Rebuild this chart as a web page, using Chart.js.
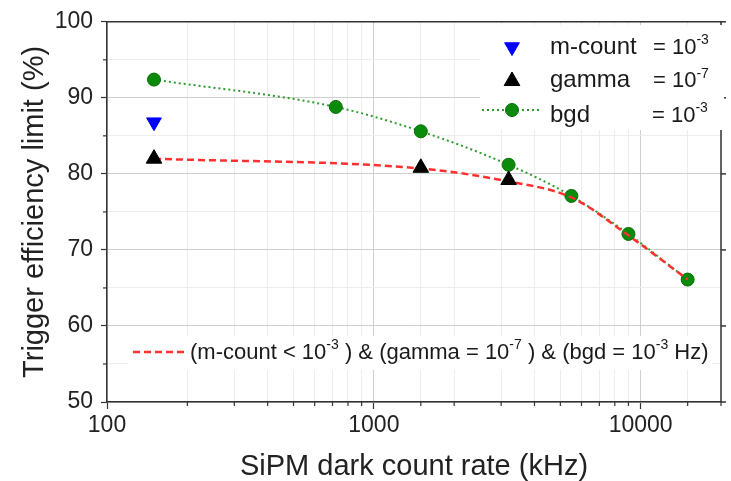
<!DOCTYPE html>
<html>
<head>
<meta charset="utf-8">
<script src="https://cdn.jsdelivr.net/npm/chart.js@4.4.1/dist/chart.umd.min.js"></script>
<style>
    html, body { margin: 0; padding: 0; background: #fff; }
    #wrap { width: 731px; height: 481px; }
</style>
</head>
<body>
<div id="wrap"><canvas id="graphCanvas" width="731" height="481"></canvas></div>
<script>
// SiPM dark count rate (kHz)
var bgdRates = [150, 720, 1500, 3200, 5500, 9000, 15000];
var bgdValues = [92.4, 88.8, 85.6, 81.2, 77.1, 72.1, 66.1];

var gammaRates = [150, 1500, 3200];
var gammaValues = [82.0, 80.8, 79.2];

var mcountRates = [150];
var mcountValues = [86.8];

var combinedRates = [150, 1500, 3200, 5500, 9000, 15000];
var combinedValues = [82.0, 80.7, 79.0, 76.9, 71.9, 66.1];

var xLabels = [100, 1000, 10000];
var yLabels = [50, 60, 70, 80, 90, 100];

var FONT = "'Liberation Sans', Arial, sans-serif";

function pts(xs, ys) {
    return xs.map(function (x, i) { return { x: x, y: ys[i] }; });
}

function isDecade(v) {
    var l = Math.log10(v);
    return Math.abs(l - Math.round(l)) < 1e-6;
}

// text with superscripts: parts = [[text, sup?], ...]
function drawParts(ctx, parts, x, y, size) {
    parts.forEach(function (p) {
        if (p[1]) {
            ctx.font = Math.round(size * 0.62) + "px " + FONT;
            ctx.fillText(p[0], x, y - size * 0.42);
        } else {
            ctx.font = size + "px " + FONT;
            ctx.fillText(p[0], x, y);
        }
        x += ctx.measureText(p[0]).width;
    });
    return x;
}

var legendPlugin = {
    id: "legends",
    afterDraw: function (chart) {
        var ctx = chart.ctx;
        var area = chart.chartArea;
        var xScale = chart.scales.x;
        var yScale = chart.scales.y;
        ctx.save();

        // frame top / right
        ctx.strokeStyle = "#333";
        ctx.lineWidth = 1.5;
        ctx.beginPath();
        ctx.moveTo(area.left, area.top);
        ctx.lineTo(area.right, area.top);
        ctx.lineTo(area.right, area.bottom);
        ctx.stroke();
        yLabels.forEach(function (v) {
            var py = yScale.getPixelForValue(v);
            ctx.beginPath();
            ctx.moveTo(area.right, py);
            ctx.lineTo(area.right + 5, py);
            ctx.stroke();
        });

        // minor ticks (shorter)
        ctx.lineWidth = 1.2;
        xScale.ticks.forEach(function (t) {
            if (isDecade(t.value)) return;
            var px = xScale.getPixelForValue(t.value);
            ctx.beginPath();
            ctx.moveTo(px, area.bottom);
            ctx.lineTo(px, area.bottom + 4);
            ctx.stroke();
        });
        yScale.ticks.forEach(function (t) {
            if (t.value % 10 === 0) return;
            var py = yScale.getPixelForValue(t.value);
            ctx.beginPath();
            ctx.moveTo(area.left, py);
            ctx.lineTo(area.left - 4, py);
            ctx.stroke();
        });

        // white legend boxes
        ctx.fillStyle = "#fff";
        ctx.fillRect(480, 25, 244, 105);
        ctx.fillRect(128, 336, 584, 34);

        ctx.textBaseline = "alphabetic";
        ctx.textAlign = "left";

        ctx.fillStyle = "#0000ff";
        ctx.strokeStyle = "#0000ff";
        ctx.lineWidth = 1;
        Chart.helpers.drawPoint(ctx, { pointStyle: "triangle", rotation: 180, radius: 8.5, borderWidth: 1 }, 512, 47);
        ctx.fillStyle = "#000";
        ctx.strokeStyle = "#000";
        Chart.helpers.drawPoint(ctx, { pointStyle: "triangle", rotation: 0, radius: 9, borderWidth: 1 }, 512, 81);

        ctx.strokeStyle = "#2e9b2e";
        ctx.lineWidth = 2;
        ctx.setLineDash([2, 3]);
        ctx.beginPath();
        ctx.moveTo(482, 110);
        ctx.lineTo(542, 110);
        ctx.stroke();
        ctx.setLineDash([]);
        ctx.fillStyle = "#0b8a0b";
        ctx.strokeStyle = "#067006";
        ctx.lineWidth = 1;
        Chart.helpers.drawPoint(ctx, { pointStyle: "circle", radius: 6.5, borderWidth: 1 }, 512, 110);

        ctx.fillStyle = "#1a1a1a";
        var size = 22;
        ctx.font = "24px " + FONT;
        ctx.fillText("m-count", 550, 53.5);
        ctx.fillText("gamma", 550, 87);
        ctx.fillText("bgd", 550, 121.5);
        drawParts(ctx, [["= 10", false], ["-3", true]], 653, 53.5, size);
        drawParts(ctx, [["= 10", false], ["-7", true]], 653, 87, size);
        drawParts(ctx, [["= 10", false], ["-3", true]], 652, 121.5, size);

        // bottom legend
        ctx.strokeStyle = "#ff3030";
        ctx.lineWidth = 2.5;
        ctx.setLineDash([7, 4]);
        ctx.beginPath();
        ctx.moveTo(133, 352);
        ctx.lineTo(185, 352);
        ctx.stroke();
        ctx.setLineDash([]);
        ctx.fillStyle = "#1a1a1a";
        drawParts(ctx, [
            ["(m-count < 10", false], ["-3", true], [" ) & (gamma = 10", false], ["-7", true],
            [" ) & (bgd = 10", false], ["-3", true], [" Hz)", false]
        ], 190, 358.5, size);

        ctx.restore();
    }
};

var data = {
    datasets: [
        {
            label: "bgd = 10-3",
            data: pts(bgdRates, bgdValues),
            showLine: true,
            borderColor: "#2e9b2e",
            borderWidth: 2,
            borderDash: [2, 3],
            cubicInterpolationMode: "monotone",
            pointStyle: "circle",
            pointRadius: 6.5,
            pointBackgroundColor: "#0b8a0b",
            pointBorderColor: "#067006",
            pointBorderWidth: 1,
            order: 4,
        },
        {
            label: "(m-count < 10-3) & (gamma = 10-7) & (bgd = 10-3 Hz)",
            data: pts(combinedRates, combinedValues),
            showLine: true,
            borderColor: "#ff3030",
            borderWidth: 2.5,
            borderDash: [7, 4],
            cubicInterpolationMode: "monotone",
            pointRadius: 0,
            order: 3,
        },
        {
            label: "gamma = 10-7",
            data: pts(gammaRates, gammaValues),
            showLine: false,
            pointStyle: "triangle",
            pointRadius: 9,
            pointBackgroundColor: "#000",
            pointBorderColor: "#000",
            order: 2,
        },
        {
            label: "m-count = 10-3",
            data: pts(mcountRates, mcountValues),
            showLine: false,
            pointStyle: "triangle",
            pointRotation: 180,
            pointRadius: 8.5,
            pointBackgroundColor: "#0000ff",
            pointBorderColor: "#0000ff",
            order: 1,
        },
    ],
};

var options = {
    responsive: false,
    animation: false,
    devicePixelRatio: 1,
    layout: { padding: { top: 18, right: 5, left: 0, bottom: 0 } },
    plugins: {
        legend: { display: false },
        tooltip: { enabled: false },
    },
    scales: {
        x: {
            type: "logarithmic",
            min: 100,
            max: 20000,
            afterFit: function (s) { s.height = 79; },
            border: { color: "#333", width: 1.5 },
            grid: {
                color: function (c) { return isDecade(c.tick.value) ? "#cfcfcf" : "#ededed"; },
                tickColor: function (c) { return isDecade(c.tick.value) ? "#333" : "rgba(0,0,0,0)"; },
                tickLength: 7,
                tickWidth: 1.2,
            },
            ticks: {
                autoSkip: false,
                maxRotation: 0,
                minRotation: 0,
                padding: 3,
                color: "#222",
                font: { family: FONT, size: 23 },
                callback: function (v) {
                    return xLabels.indexOf(Math.round(v)) >= 0 ? String(Math.round(v)) : "";
                },
            },
            title: {
                display: true,
                text: "SiPM dark count rate (kHz)",
                color: "#222",
                font: { family: FONT, size: 29, lineHeight: 1 },
                padding: { top: 1, bottom: 0 },
            },
        },
        y: {
            min: 50,
            max: 100,
            afterFit: function (s) { s.width = 107; },
            border: { color: "#333", width: 1.5 },
            grid: {
                color: function (c) { return c.tick.value % 10 === 0 ? "#cfcfcf" : "#ededed"; },
                tickColor: function (c) { return c.tick.value % 10 === 0 ? "#333" : "rgba(0,0,0,0)"; },
                tickLength: 6,
                tickWidth: 1.2,
            },
            ticks: {
                stepSize: 5,
                padding: 8,
                color: "#222",
                font: { family: FONT, size: 23 },
                callback: function (v) { return yLabels.indexOf(v) >= 0 ? String(v) : ""; },
            },
            title: {
                display: true,
                text: "Trigger efficiency limit (%)",
                color: "#222",
                font: { family: FONT, size: 29, lineHeight: 1 },
                padding: { top: 20, bottom: 0 },
            },
        },
    },
};

var chart1 = new Chart(document.getElementById("graphCanvas"), {
    type: "scatter",
    data: data,
    options: options,
    plugins: [legendPlugin],
});
</script>
</body>
</html>
